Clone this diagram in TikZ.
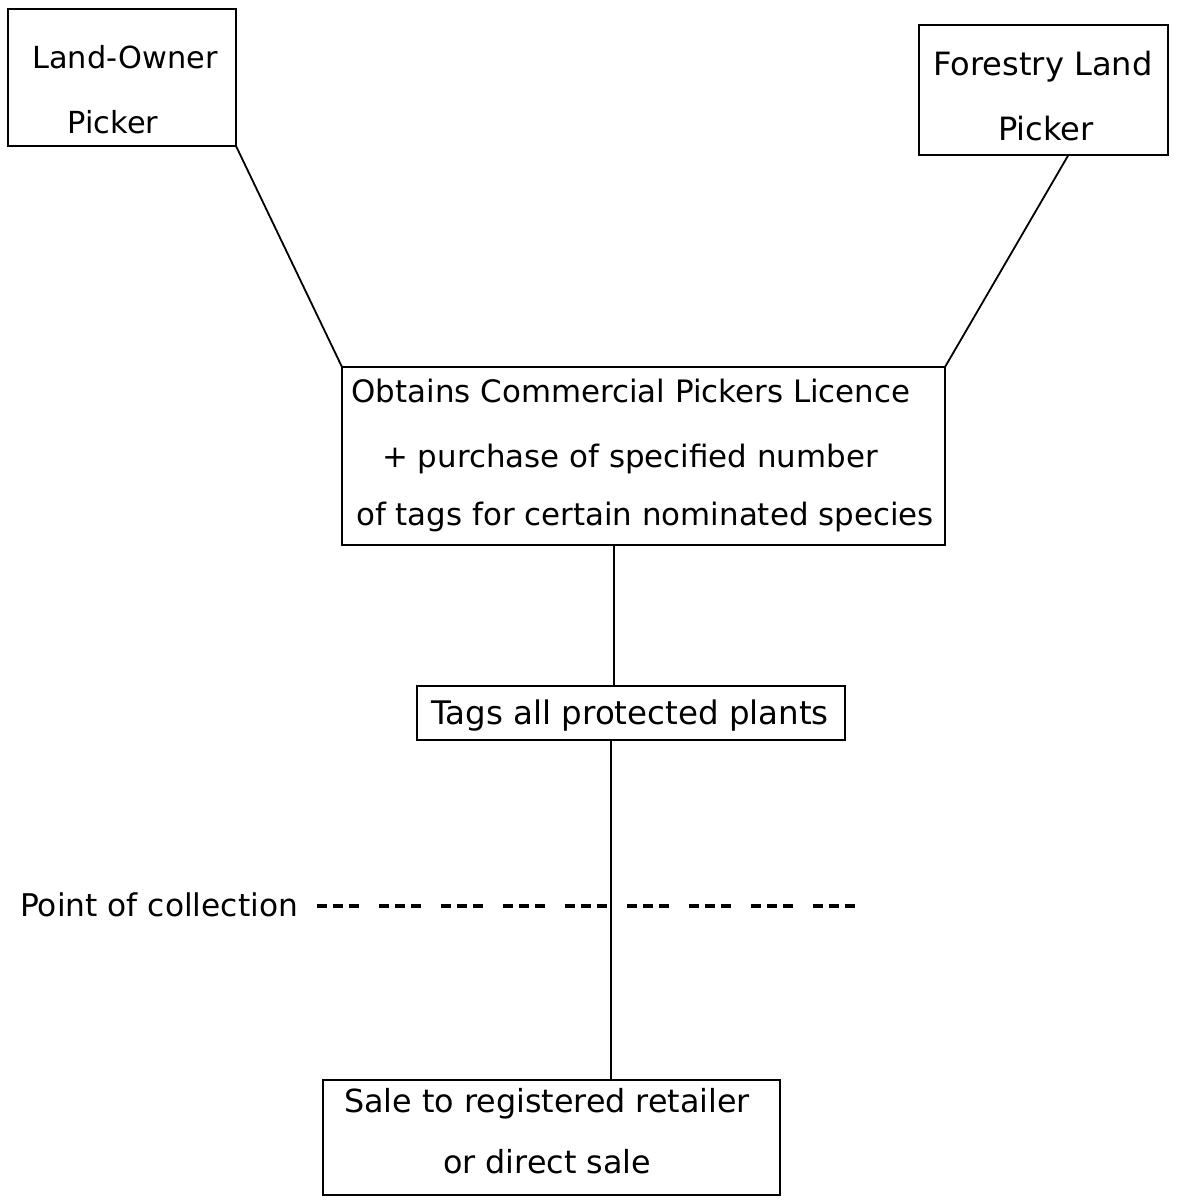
\documentclass[tikz,border=0pt]{standalone}
\usepackage{fontspec}
\setmainfont{DejaVu Sans}
\begin{document}
\begin{tikzpicture}[x=1bp,y=-1bp,
  box/.style={draw=black, line width=2.2bp, rectangle, inner sep=0pt, outer sep=0pt, anchor=north west},
  txt/.style={inner sep=0pt, anchor=base, font=\fontsize{31}{36}\selectfont},
  link/.style={draw=black, line width=1.8bp},
  cutline/.style={draw=black, line width=3.5bp, dash pattern=on 10bp off 6bp on 10bp off 6bp on 10bp off 20bp}]
\useasboundingbox (0,0) rectangle (1181,1200);
\fill[white] (0,0) rectangle (1181,1200);
% boxes
\node[box, minimum width=228bp, minimum height=137bp] (b1) at (8,9) {};
\node[box, minimum width=249bp, minimum height=130bp] (b2) at (919,25) {};
\node[box, minimum width=603bp, minimum height=178bp] (b3) at (342,367) {};
\node[box, minimum width=428bp, minimum height=54bp] (b4) at (417,686) {};
\node[box, minimum width=457bp, minimum height=115bp] (b5) at (323,1080) {};
% texts
\node[txt, font=\fontsize{30.5}{36}\selectfont] (t1a) at (125,68) {Land-Owner};
\node[txt, font=\fontsize{30.5}{36}\selectfont] (t1b) at (113,133) {Picker};
\node[txt, font=\fontsize{32.2}{36}\selectfont] (t2a) at (1043,75) {Forestry Land};
\node[txt, font=\fontsize{32.2}{36}\selectfont] (t2b) at (1046,140) {Picker};
\node[txt, font=\fontsize{31}{36}\selectfont] (t3a) at (631,402) {Obtains Commercial Pickers Licence};
\node[txt, font=\fontsize{31}{36}\selectfont] (t3b) at (630,467) {+ purchase of specified number};
\node[txt, font=\fontsize{31}{36}\selectfont] (t3c) at (645,525) {of tags for certain nominated species};
\node[txt, font=\fontsize{32.6}{36}\selectfont] (t4) at (630,724) {Tags all protected plants};
\node[txt, font=\fontsize{31.9}{36}\selectfont] (t5a) at (547,1112) {Sale to registered retailer};
\node[txt, font=\fontsize{31.9}{36}\selectfont] (t5b) at (547,1173) {or direct sale};
\node[txt, font=\fontsize{31.4}{36}\selectfont, anchor=base west] (poc) at (20,916) {Point of collection};
% connectors
\path (b2.south west) -- (b2.south east) coordinate[pos=0.6] (b2c);
\draw[link] (b1.south east) -- (b3.north west);
\draw[link] (b2c) -- (b3.north east);
\coordinate (v1) at (614,0);
\coordinate (v2) at (611,0);
\draw[link] (b3.south -| v1) -- (b4.north -| v1);
\draw[link] (b4.south -| v2) -- (b5.north -| v2);
\coordinate (dstart) at (317,906);
\coordinate (dend) at (856,906);
\draw[cutline] (dstart) -- (dend);
\end{tikzpicture}
\end{document}
